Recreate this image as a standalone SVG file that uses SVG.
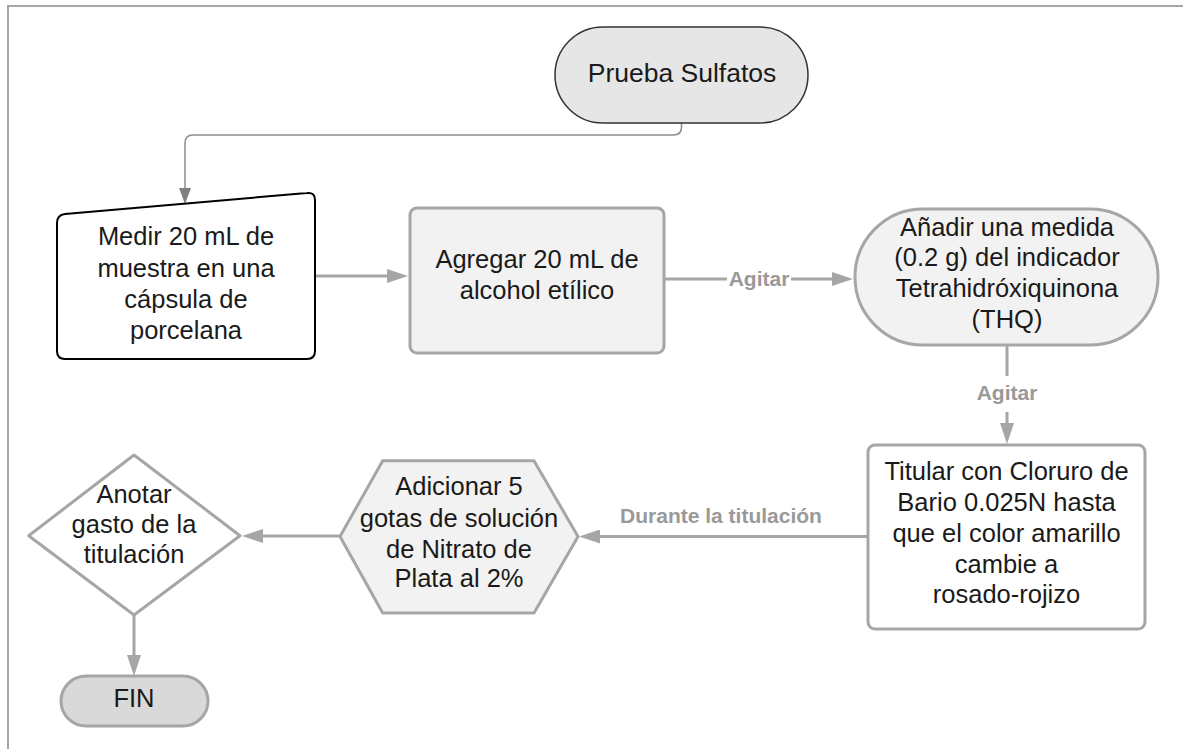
<svg xmlns="http://www.w3.org/2000/svg" width="1183" height="749" viewBox="0 0 1183 749">
<defs>
<style>
.t{font-family:"Liberation Sans",Arial,sans-serif;font-size:25.5px;fill:#1a1a1a;text-anchor:middle}
.lbl{font-family:"Liberation Sans",Arial,sans-serif;font-size:21px;font-weight:bold;fill:#999999;text-anchor:middle}
.g{stroke:#a6a6a6;stroke-width:3;stroke-linejoin:round}
.c{fill:none;stroke:#a6a6a6;stroke-width:3}
</style>
<marker id="ah" markerUnits="userSpaceOnUse" markerWidth="21" markerHeight="14" refX="0" refY="7" orient="auto" viewBox="0 0 21 14">
<path d="M0,0 L21,7 L0,14 Z" fill="#a6a6a6"/>
</marker>
<marker id="ah2" markerUnits="userSpaceOnUse" markerWidth="16" markerHeight="12" refX="0" refY="6" orient="auto" viewBox="0 0 16 12">
<path d="M0,0 L16,6 L0,12 Z" fill="#808080"/>
</marker>
</defs>
<rect width="1183" height="749" fill="#ffffff"/>
<path d="M8,749 V6 H1183" fill="none" stroke="#a6a6a6" stroke-width="2"/>

<g id="connectors">
<path d="M681.5,123 V127 Q681.5,135 673.5,135 H193 Q185,135 185,143 V188" fill="none" stroke="#8c8c8c" stroke-width="1.5" marker-end="url(#ah2)"/>
<path class="c" d="M315,276 H387" marker-end="url(#ah)"/>
<path class="c" d="M664,279 H727 M791,279 H832" marker-end="url(#ah)"/>
<text class="lbl" x="759" y="286">Agitar</text>
<path class="c" d="M1007,345 V376 M1007,412 V423" marker-end="url(#ah)"/>
<text class="lbl" x="1007" y="400">Agitar</text>
<path class="c" d="M868,536.5 H600" marker-end="url(#ah)"/>
<text class="lbl" x="721" y="523">Durante la titulación</text>
<path class="c" d="M340,536 H263" marker-end="url(#ah)"/>
<path class="c" d="M134,615 V655" marker-end="url(#ah)"/>
</g>

<g id="prueba">
<rect x="555" y="27" width="253" height="96" rx="48" ry="48" fill="#e6e6e6" stroke="#333333" stroke-width="1.5"/>
<text class="t" x="682" y="82" style="font-size:26.5px">Prueba Sulfatos</text>
</g>

<g id="medir">
<path d="M57,223 Q57,215 65,214 L307,193 Q315,192 315,200 L315,351 Q315,359 307,359 L65,359 Q57,359 57,351 Z" fill="#ffffff" stroke="#000000" stroke-width="2"/>
<text class="t" x="186" y="245">Medir 20 mL de</text>
<text class="t" x="186" y="277">muestra en una</text>
<text class="t" x="186" y="308">cápsula de</text>
<text class="t" x="186" y="339">porcelana</text>
</g>

<g id="agregar">
<rect class="g" x="410" y="208" width="254" height="145" rx="7" fill="#f2f2f2"/>
<text class="t" x="537" y="268">Agregar 20 mL de</text>
<text class="t" x="537" y="299">alcohol etílico</text>
</g>

<g id="anadir">
<rect class="g" x="855" y="209" width="303" height="136" rx="68" ry="68" fill="#f2f2f2"/>
<text class="t" x="1007" y="236">Añadir una medida</text>
<text class="t" x="1007" y="266">(0.2 g) del indicador</text>
<text class="t" x="1007" y="297">Tetrahidróxiquinona</text>
<text class="t" x="1007" y="328">(THQ)</text>
</g>

<g id="titular">
<rect class="g" x="868" y="445" width="277" height="184" rx="7" fill="#ffffff"/>
<text class="t" x="1006.5" y="480">Titular con Cloruro de</text>
<text class="t" x="1006.5" y="511">Bario 0.025N hasta</text>
<text class="t" x="1006.5" y="542">que el color amarillo</text>
<text class="t" x="1006.5" y="573">cambie a</text>
<text class="t" x="1006.5" y="603">rosado-rojizo</text>
</g>

<g id="adicionar">
<polygon class="g" points="340,536.5 382.7,460.7 534,460.7 578,536.5 534,613 382.7,613" fill="#f2f2f2"/>
<text class="t" x="459" y="495">Adicionar 5</text>
<text class="t" x="459" y="527">gotas de solución</text>
<text class="t" x="459" y="558">de Nitrato de</text>
<text class="t" x="459" y="587">Plata al 2%</text>
</g>

<g id="anotar">
<polygon class="g" points="28.7,535.7 134,455 240,535.7 134,615" fill="#ffffff"/>
<text class="t" x="134" y="503">Anotar</text>
<text class="t" x="134" y="533">gasto de la</text>
<text class="t" x="134" y="563">titulación</text>
</g>

<g id="fin">
<rect class="g" x="61" y="676" width="147" height="50" rx="25" ry="25" fill="#d9d9d9"/>
<text class="t" x="134" y="707">FIN</text>
</g>
</svg>
